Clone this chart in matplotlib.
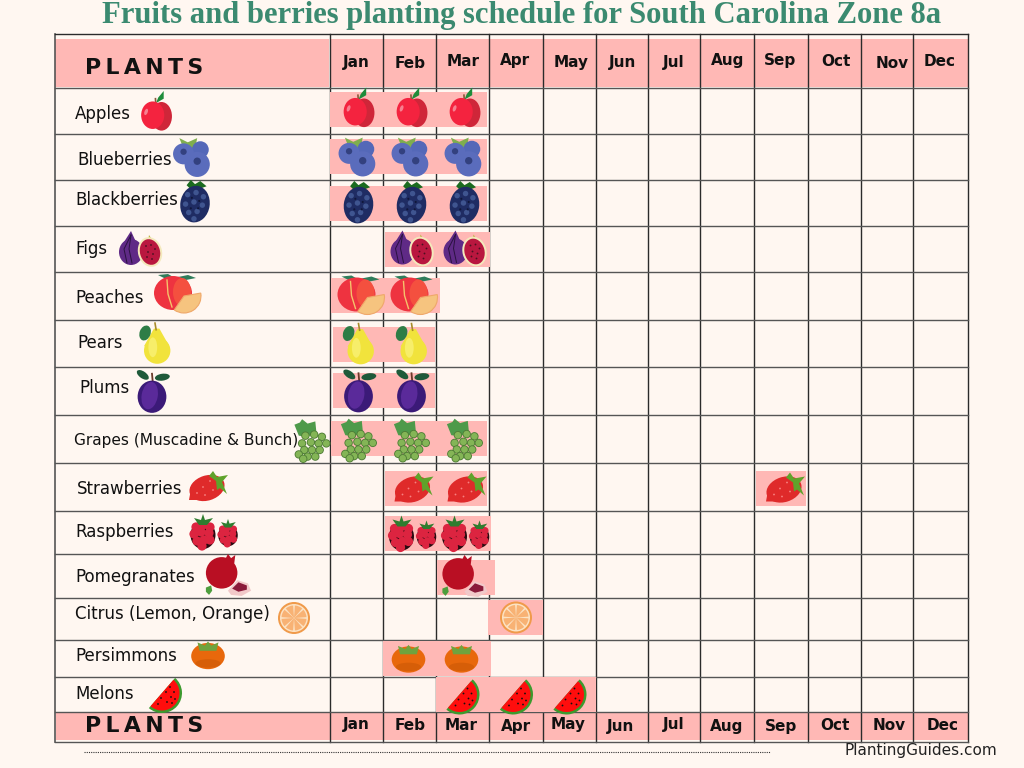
import matplotlib
matplotlib.use("Agg")
import matplotlib.pyplot as plt
from matplotlib.patches import Circle, Ellipse, Polygon, Wedge
from matplotlib.transforms import Affine2D

# chart data
plants = ["Apples", "Blueberries", "Blackberries", "Figs", "Peaches", "Pears", "Plums",
          "Grapes (Muscadine & Bunch)", "Strawberries", "Raspberries", "Pomegranates",
          "Citrus (Lemon, Orange)", "Persimmons", "Melons"]
months = ["Jan", "Feb", "Mar", "Apr", "May", "Jun", "Jul", "Aug", "Sep", "Oct", "Nov", "Dec"]
schedule = [["Jan", "Feb", "Mar"], ["Jan", "Feb", "Mar"], ["Jan", "Feb", "Mar"], ["Feb", "Mar"],
            ["Jan", "Feb"], ["Jan", "Feb"], ["Jan", "Feb"], ["Jan", "Feb", "Mar"],
            ["Feb", "Mar", "Sep"], ["Feb", "Mar"], ["Mar"], ["Apr"], ["Feb", "Mar"],
            ["Mar", "Apr", "May"]]

# layout, in pixels of the 1024x768 canvas
col_edges = [330, 383, 436, 489, 543, 596, 648, 700, 754, 808, 861, 913, 968]
row_edges = [88, 134, 180, 226, 272, 320, 367, 415, 463, 511, 554, 598, 640, 677, 712]
band_y = [109.5, 156.5, 203, 249.5, 295.5, 344.5, 390.5, 438.5, 488.5, 533.5, 577, 617.5, 658.5, 694.5]
band_left = [0, 0, 0, 2, 1, 3, 3, 1, 2, 2, 1, -1, 0, 0]
band_right = [-2, -2, -2, 1, 4, -1, -1, -2, -2, 2, 6, 0, 2, 0]
label_x = [75, 77, 75, 75, 75, 77, 79, 74, 77, 75, 75, 75, 75, 75]
label_y = [114, 160, 200, 249, 298, 343, 388, 440, 489, 532, 577, 614, 656, 694]
label_size = [12, 12, 12, 12, 12, 12, 12, 11.1, 12, 12, 12, 12, 12, 12]
icon_x = [156, 193, 195, 141, 176, 155, 152, 312, 208, 214, 229, 294, 208, 165]
icon_y = [113, 157, 202, 250, 294, 344, 391, 439, 487, 532, 576, 618, 655, 693]
icon_dx = [2, 2, 2, 3, 3, 2, 2, 2, 4, 3, 3, 0, -1, 0]
icon_scale = [1.1, 1.05, 1.05, 1.0, 1.0, 1.1, 1.15, 1.1, 1.0, 1.0, 1.05, 1.0, 1.05, 1.0]
head_x = [356, 410, 463, 515, 571, 623, 674, 728, 780, 836, 892, 940]
head_y = [63, 63, 61, 61, 63, 63, 63, 61, 61, 61, 63, 61]
foot_x = [356, 410, 461, 516, 568, 621, 674, 727, 781, 835, 889, 943]
foot_y = [725, 726, 725, 726, 725, 726, 725, 726, 726, 725, 725, 725]

BG = "#FFF7F1"
PINK = "#FFB8B5"
LINE = "#2B2B2B"
Z = 5

fig = plt.figure(figsize=(10.24, 7.68), dpi=100, facecolor=BG)
ax = fig.add_axes([0, 0, 1, 1])
ax.set_xlim(0, 1024)
ax.set_ylim(768, 0)
ax.axis("off")


def circ(x, y, r, c):
    ax.add_patch(Circle((x, y), r, fc=c, ec="none", zorder=Z))


def oval(x, y, w, h, c, angle=0):
    ax.add_patch(Ellipse((x, y), w, h, angle=angle, fc=c, ec="none", zorder=Z))


def poly(x, y, pts, c):
    ax.add_patch(Polygon([(x + a, y + b) for a, b in pts], closed=True, fc=c, ec="none", zorder=Z))


def apple(x, y):
    poly(x, y, [(0, -9), (2, -14), (7, -20), (7, -13)], "#1E8C3A")
    ax.plot([x, x - 0.5], [y - 6, y - 13], color="#8A5A3A", lw=1.2, zorder=Z)
    oval(x + 5, y + 3, 19, 26, "#CF2639")
    oval(x - 3, y + 2, 21, 25, "#F4233F")
    oval(x - 9, y - 1, 3, 6, "#F78090", angle=20)


def blueberry(x, y):
    poly(x, y, [(-13, -18), (-5, -14), (4, -18), (2, -8), (-9, -8)], "#7FAE4E")
    circ(x + 7, y - 7, 8, "#5468B8")
    circ(x - 9, y - 3, 10, "#5A6CBC")
    circ(x + 4, y + 7, 12, "#5A6CBC")
    circ(x + 4, y + 4, 3.5, "#33417F")
    circ(x - 9, y - 5, 3, "#33417F")


def blackberry(x, y):
    poly(x, y, [(-8, -16), (-4, -21), (0, -17), (5, -20), (11, -15), (3, -12), (-4, -12)], "#1B6B1F")
    oval(x, y + 2, 28, 35, "#1F2C63", angle=8)
    for a, b in [(-7, -7), (1, -9), (8, -5), (-9, 2), (-1, 0), (7, 3), (-6, 10), (2, 9), (-1, 16)]:
        circ(x + a, y + b, 2.6, "#3F5590")
    for a, b in [(-3, -4), (4, -1), (-4, 6), (3, 6)]:
        circ(x + a, y + b, 1, "#10173A")


def fig_fruit(x, y):
    poly(x, y, [(-10, -19), (-5, -8), (-17, -8)], "#5F2A86")
    oval(x - 10, y + 2, 24, 26, "#5F2A86")
    for a in [-17, -12]:
        ax.plot([x - 10, x + a, x + a + 3], [y - 15, y - 1, y + 13], color="#2A1240", lw=0.7, zorder=Z)
    poly(x, y, [(8, -15), (12, -9), (7, -8)], "#B8B23A")
    oval(x + 9, y + 2, 24, 30, "#F4E9BC", angle=-15)
    oval(x + 9, y + 2, 20, 26, "#B9173F", angle=-15)
    for a, b in [(5, -4), (10, -5), (14, -1), (7, 2), (12, 4), (6, 7), (11, 9)]:
        circ(x + a, y + b, 0.9, "#4A1020")


def peach(x, y):
    poly(x, y, [(-18, -19), (-8, -20), (-1, -16), (-10, -15)], "#2F7D5B")
    poly(x, y, [(2, -17), (12, -19), (20, -16), (10, -14)], "#2F7D5B")
    oval(x - 3, y - 1, 38, 34, "#EE3340")
    oval(x + 6, y - 2, 18, 28, "#F4503F")
    ax.plot([x - 9, x - 8, x - 4], [y - 14, y, y + 13], color="#F5C26B", lw=1, zorder=Z)
    ax.add_patch(Wedge((x + 8, y + 2), 17, -10, 125, fc="#F6C47F", ec="#EFA86A", lw=0.8, zorder=Z))


def pear(x, y):
    oval(x + 2, y + 6, 24, 24, "#F1E33C")
    poly(x, y, [(-1, -14), (4, -14), (13, 2), (-10, 2)], "#F1E33C")
    oval(x - 2, y + 3, 8, 18, "#F7EE6A")
    ax.plot([x + 1, x], [y - 13, y - 19], color="#A98C2A", lw=1.2, zorder=Z)
    oval(x - 9, y - 10, 10, 14, "#2E7D46", angle=20)


def plum(x, y):
    ax.plot([x + 1, x], [y - 4, y - 15], color="#6B3A2A", lw=1.3, zorder=Z)
    oval(x - 8, y - 14, 12, 6, "#1F5A3A", angle=35)
    oval(x + 9, y - 12, 13, 6, "#1F5A3A", angle=-8)
    oval(x, y + 5, 25, 28, "#3B1A78")
    oval(x - 2, y + 4, 14, 24, "#5A2A9A", angle=10)


def grapes(x, y):
    poly(x, y, [(-16, -13), (-11, -15), (-9, -18), (-4, -14), (3, -16), (4, -6), (-4, -2), (-12, -3)], "#4E9A4A")
    for a, b in [(-6, -3), (2, -4), (9, -2), (-9, 4), (-1, 3), (6, 4), (13, 4),
                 (-7, 10), (0, 10), (7, 10), (-12, 14), (-4, 16), (3, 16), (-8, 18)]:
        circ(x + a, y + b, 3.8, "#4F7D36")
        circ(x + a, y + b, 3, "#84B556")


def strawberry(x, y):
    oval(x - 1, y + 1, 36, 25, "#DF2A2A", angle=-18)
    poly(x, y, [(-19, 13), (-17, 2), (-8, 6), (-5, 13)], "#DF2A2A")
    for a, b in [(-11, 6), (-5, 0), (2, -6), (-3, 8), (5, 3), (10, -4)]:
        circ(x + a, y + b, 0.9, "#F88080")
    poly(x, y, [(5, -16), (9, -10), (20, -12), (14, -5), (19, 7), (12, 1), (9, 3), (8, -6), (1, -11)], "#5FA32B")


def raspberry_one(x, y, s):
    oval(x, y + 3 * s, 25 * s, 28 * s, "#2A0A10")
    for a, b in [(-7, -5), (0, -7), (7, -5), (-9, 2), (-2, 0), (6, 1), (-6, 9), (1, 8), (7, 8), (-1, 14)]:
        circ(x + a * s, y + b * s, 4.6 * s, "#DC2440")
    poly(x, y, [(-9 * s, -14 * s), (-2 * s, -12 * s), (0, -18 * s), (2 * s, -12 * s),
                (10 * s, -14 * s), (4 * s, -7 * s), (-4 * s, -7 * s)], "#2F7D2F")


def raspberry(x, y):
    raspberry_one(x - 11, y, 1)
    raspberry_one(x + 14, y + 1, 0.78)


def pomegranate(x, y):
    poly(x, y, [(-4, -15), (-1, -21), (2, -17), (6, -20), (5, -12)], "#B90F23")
    circ(x - 7, y - 3, 15, "#B90F23")
    poly(x, y, [(-1, 14), (8, 4), (18, 7), (21, 14), (12, 19), (2, 18)], "#F1C9C9")
    poly(x, y, [(3, 12), (9, 6), (17, 9), (17, 13), (9, 15)], "#8A1A3A")
    poly(x, y, [(-22, 11), (-17, 9), (-16, 14), (-19, 18), (-22, 15)], "#4E9E3D")


def citrus(x, y):
    circ(x, y, 16, "#F09A4A")
    circ(x, y, 14, "#FCE3C4")
    for k in range(8):
        ax.add_patch(Wedge((x, y), 12.5, k * 45 + 4, k * 45 + 41, fc="#F8B274", ec="none", zorder=Z))


def persimmon(x, y):
    oval(x, y + 1, 32, 25, "#E8680C")
    oval(x, y + 8, 24, 8, "#D65E08")
    poly(x, y, [(-10, -12), (-3, -9), (0, -13), (3, -9), (10, -12), (8, -4), (-8, -4)], "#6FA33E")


def melon(x, y):
    ax.add_patch(Wedge((x - 3, y), 20, -49, 131, fc="#3C9A2E", ec="none", zorder=Z))
    ax.add_patch(Wedge((x - 3, y), 17.5, -49, 131, fc="#FF0D0D", ec="none", zorder=Z))
    for a, b in [(6, -6), (10, -1), (2, -1), (7, 4), (11, 6), (-3, 5), (3, 9), (8, 10), (-6, 11)]:
        circ(x + a - 1, y + b, 0.9, "#111111")


icon_funcs = [apple, blueberry, blackberry, fig_fruit, peach, pear, plum, grapes,
              strawberry, raspberry, pomegranate, citrus, persimmon, melon]


def draw_icon(func, x, y, s):
    # scale whatever the icon added about its own centre
    n_patches = len(ax.patches)
    n_lines = len(ax.lines)
    func(x, y)
    tr = Affine2D().translate(-x, -y).scale(s).translate(x, y) + ax.transData
    for a in list(ax.patches)[n_patches:] + list(ax.lines)[n_lines:]:
        a.set_transform(tr)


# header and footer bands
ax.bar(192, 48, width=274, bottom=39, color=PINK, zorder=1)
ax.bar(649, 48, width=638, bottom=39, color=PINK, zorder=1)
ax.bar(512, 27, width=912, bottom=713, color=PINK, zorder=1)

# grid
for e in col_edges:
    ax.plot([e, e], [34, 742], color=LINE, lw=1.0, zorder=2)
ax.plot([55, 55], [34, 742], color="#555555", lw=1.2, zorder=2)
ax.plot([55, 968], [34, 34], color=LINE, lw=1.0, zorder=2)
ax.plot([55, 968], [742, 742], color="#555555", lw=1.0, zorder=2)
for e in row_edges:
    ax.plot([55, 968], [e, e], color="#555555", lw=1.0, zorder=2)

# planting bands and icons
for i, plant in enumerate(plants):
    idx = [months.index(m) for m in schedule[i]]
    runs = []
    for j in idx:
        if runs and runs[-1][1] == j - 1:
            runs[-1][1] = j
        else:
            runs.append([j, j])
    for first, last in runs:
        left = col_edges[first] + band_left[i]
        right = col_edges[last + 1] + band_right[i]
        ax.bar(left, 35, width=right - left, bottom=band_y[i] - 17.5, align="edge", color=PINK, zorder=3)
    for j in idx:
        draw_icon(icon_funcs[i], (col_edges[j] + col_edges[j + 1]) / 2 + icon_dx[i], band_y[i], icon_scale[i])
    ax.text(label_x[i], label_y[i], plant, fontsize=label_size[i], family="DejaVu Sans", color="#111111",
            va="center", ha="left", zorder=6)
    draw_icon(icon_funcs[i], icon_x[i], icon_y[i], icon_scale[i])

# month labels
for k, m in enumerate(months):
    ax.text(head_x[k], head_y[k], m, fontsize=11, family="DejaVu Sans", weight="bold",
            color="#111111", ha="center", va="center", zorder=6)
    ax.text(foot_x[k], foot_y[k], m, fontsize=11, family="DejaVu Sans", weight="bold",
            color="#111111", ha="center", va="center", zorder=6)

plants_title = "P\u2009L\u2009A\u2009N\u2009T\u2009S"
ax.text(85, 68, plants_title, fontsize=15.8, family="DejaVu Sans", weight="bold",
        color="#111111", va="center", ha="left", zorder=6)
ax.text(85, 726, plants_title, fontsize=15.8, family="DejaVu Sans", weight="bold",
        color="#111111", va="center", ha="left", zorder=6)

ax.text(522, 16, "Fruits and berries planting schedule for South Carolina Zone 8a",
        fontsize=22.1, family="Liberation Serif", weight="bold", color="#3B8A70",
        ha="center", va="center")

ax.plot([84, 770], [752, 752], color="#333333", lw=0.8, ls=(0, (1, 1)))
ax.text(845, 750, "PlantingGuides.com", fontsize=11, family="DejaVu Sans", color="#222222",
        ha="left", va="center")

fig.savefig("out.png", dpi=100, facecolor=BG)
